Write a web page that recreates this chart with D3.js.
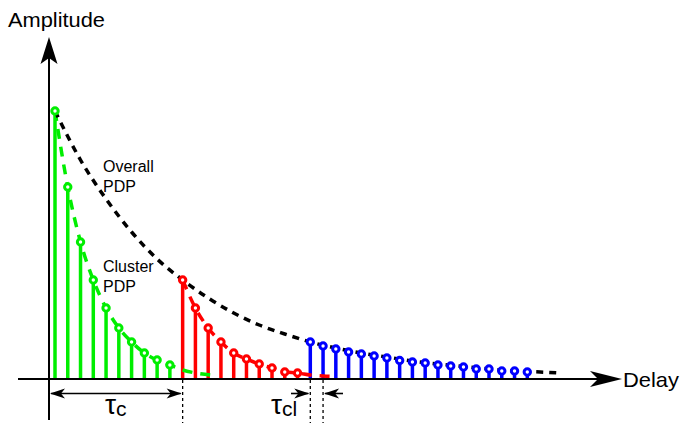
<!DOCTYPE html>
<html><head><meta charset="utf-8">
<script src="https://cdn.jsdelivr.net/npm/d3@7"></script>
<style>html,body{margin:0;padding:0;background:#fff;}svg{display:block;font-family:"Liberation Sans",Arial,sans-serif;}</style>
</head><body>
<svg id="c" width="680" height="423"></svg>
<script>
// Delay indices (tap positions) and amplitudes
const greenDelays = [0,1,2,3,4,5,6,7,8,9];
const greenAmps   = [268,192,137,99,71,51,37,26,19,14];
const redDelays   = [10,11,12,13,14,15,16,17,18,19];
const redAmps     = [99,71,51,37,26,20,15,11,7,6];
const blueDelays  = [20,21,22,23,24,25,26,27,28,29,30,31,32,33,34,35,36,37];
const blueAmps    = [37,33,30,27,25,23,21,18.5,17,16,14,13,12,10,10,8,8,7];
// Dashed PDP envelopes (delay, amplitude)
const overallPDP = [[0,268],[2,219],[4,180],[6,147],[8,120],[10,99],[12,81],[14,66],[16,54],[18,45],[20,37],[22,31],[24,26],[26,22],[28,18],[30,15],[32,12.5],[34,10],[36,8],[38,7],[39.6,6]];
const greenPDP = [[0,268],[1,192],[2,137],[3,99],[4,71],[5,51],[6,37],[7,26],[8,19],[9,14],[10,9],[11,6],[12.5,3.5]];
const redPDP   = [[10,99],[11,71],[12,51],[13,37],[14,26],[15,20],[16,15],[17,11],[18,7],[19,6],[20,4],[21,3],[22.1,2.5]];
const labels = {y:"Amplitude", x:"Delay", overall:["Overall","PDP"], cluster:["Cluster","PDP"]};

const svg = d3.select("#c");
const x = d3.scaleLinear().domain([0,37]).range([55,527.3]);
const y = d3.scaleLinear().domain([0,300]).range([379,79]);
const X0 = 49, Y0 = 379;

// axes
svg.append("line").attr("x1",X0).attr("x2",X0).attr("y1",58).attr("y2",420).attr("stroke","#000").attr("stroke-width",2);
svg.append("line").attr("x1",18).attr("x2",600).attr("y1",Y0).attr("y2",Y0).attr("stroke","#000").attr("stroke-width",2);
svg.append("path").attr("d",`M${X0},37 L${X0+8.5},64 L${X0},58 L${X0-8.5},64 Z`).attr("fill","#000");
svg.append("path").attr("d",`M622,${Y0} L590,${Y0+8} L598,${Y0} L590,${Y0-8} Z`).attr("fill","#000");
svg.append("text").attr("x",8).attr("y",27).attr("font-size",20).attr("textLength",97).attr("lengthAdjust","spacingAndGlyphs").text(labels.y);
svg.append("text").attr("x",623).attr("y",387).attr("font-size",21).attr("textLength",56).attr("lengthAdjust","spacingAndGlyphs").text(labels.x);

const colors = {g:"#00ee00", r:"#ff0000", b:"#0000ff"};
const groups = [
  {d:greenDelays,a:greenAmps,c:colors.g},
  {d:redDelays,a:redAmps,c:colors.r},
  {d:blueDelays,a:blueAmps,c:colors.b}
];
// stems
groups.forEach(g=>{
  svg.append("g").selectAll("line").data(g.d.map((d,i)=>[d,g.a[i]])).join("line")
    .attr("x1",d=>x(d[0])).attr("x2",d=>x(d[0])).attr("y1",Y0-1).attr("y2",d=>y(d[1]))
    .attr("stroke",g.c).attr("stroke-width",3.5);
});
// dashed envelopes
const line = d3.line().x(d=>x(d[0])).y(d=>y(d[1])).curve(d3.curveMonotoneX);
svg.append("path").attr("d",line(greenPDP)).attr("fill","none").attr("stroke",colors.g).attr("stroke-width",3.5).attr("stroke-dasharray","10,8");
svg.append("path").attr("d",line(redPDP)).attr("fill","none").attr("stroke",colors.r).attr("stroke-width",3.5).attr("stroke-dasharray","10,8");
svg.append("path").attr("d",line(overallPDP)).attr("fill","none").attr("stroke","#000").attr("stroke-width",3.5).attr("stroke-dasharray","7,6");
// markers
groups.forEach(g=>{
  svg.append("g").selectAll("circle").data(g.d.map((d,i)=>[d,g.a[i]])).join("circle")
    .attr("cx",d=>x(d[0])).attr("cy",d=>y(d[1])).attr("r",3.2)
    .attr("fill","#fff").attr("stroke",g.c).attr("stroke-width",3);
});

// labels
[[labels.overall,172],[labels.cluster,272]].forEach(([t,yy])=>{
  svg.append("text").attr("x",103).attr("y",yy).attr("font-size",16).text(t[0]);
  svg.append("text").attr("x",103).attr("y",yy+20).attr("font-size",16).text(t[1]);
});

// dimension markers
const dash = (xx)=>svg.append("line").attr("x1",xx).attr("x2",xx).attr("y1",Y0+1).attr("y2",423).attr("stroke","#000").attr("stroke-width",1.3).attr("stroke-dasharray","3,3");
const xc = x(10), xb1 = x(20), xb2 = x(21);
dash(xc); dash(xb1); dash(xb2);
const yd = 393.5;
const head = (tx,dir)=>svg.append("path").attr("d",`M${tx},${yd} L${tx-dir*15},${yd-5} L${tx-dir*11},${yd} L${tx-dir*15},${yd+5} Z`).attr("fill","#000");
const dl = (a,b)=>svg.append("line").attr("x1",a).attr("x2",b).attr("y1",yd).attr("y2",yd).attr("stroke","#000").attr("stroke-width",1.6);
dl(X0+2,xc-2); head(X0+1,-1); head(xc-1,1);
dl(291,xb1-2); head(xb1-1,1);
dl(xb2+2,343); head(xb2+1,-1);

const tau1 = svg.append("text").attr("x",105).attr("y",414).attr("font-size",28);
tau1.append("tspan").text("τ");
tau1.append("tspan").attr("font-size",21).attr("dy",2).text("c");
const tau2 = svg.append("text").attr("x",271).attr("y",414).attr("font-size",28);
tau2.append("tspan").text("τ");
tau2.append("tspan").attr("font-size",21).attr("dy",2).text("cl");
</script>
</body></html>
